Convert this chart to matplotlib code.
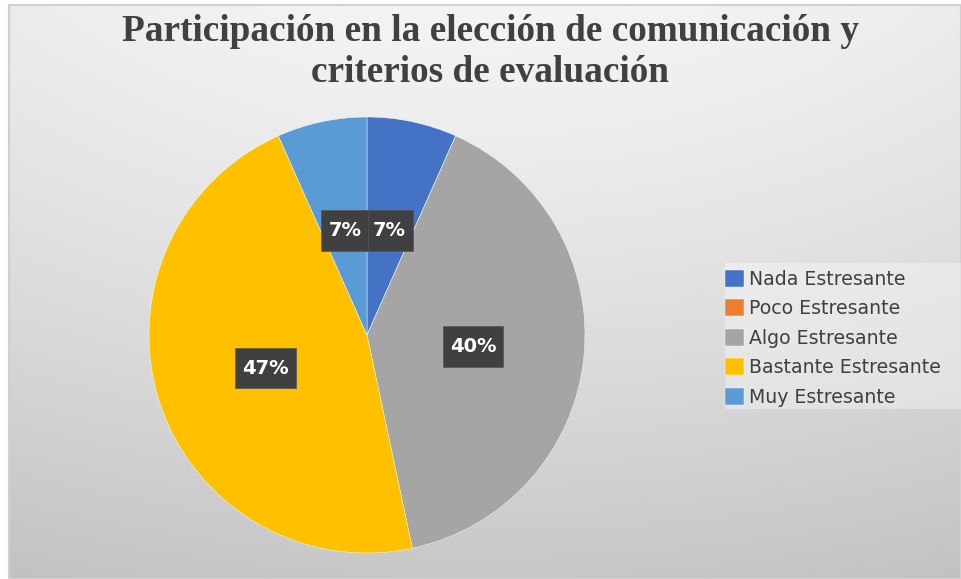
import numpy as np
import matplotlib
matplotlib.use("Agg")
import matplotlib.pyplot as plt
from matplotlib.patches import Rectangle
from matplotlib.path import Path

title = "Participación en la elección de comunicación y\ncriterios de evaluación"
categories = ["Nada Estresante", "Poco Estresante", "Algo Estresante",
              "Bastante Estresante", "Muy Estresante"]
counts = [1, 0, 6, 7, 1]
colors = ["#4472C4", "#ED7D31", "#A5A5A5", "#FFC000", "#5B9BD5"]

W, H = 961, 579
fig = plt.figure(figsize=(W / 100, H / 100), dpi=100)
fig.patch.set_facecolor("white")

# background gradient chart area
bg = fig.add_axes([9 / W, 0, (W - 9) / W, (H - 5) / H])
ny, nx = 200, 300
yy, xx = np.mgrid[0:ny, 0:nx]
cx, cy = nx * 0.5, -ny * 0.35
d = np.sqrt(((xx - cx) / nx) ** 2 + ((yy - cy) / ny) ** 2)
d = (d - d.min()) / (d.max() - d.min())
top, bot = 0.955, 0.76
g = top + (bot - top) * d ** 1.3
img = np.dstack([g, g, g])
bg.imshow(img, aspect="auto", extent=[0, 1, 1, 0], interpolation="bilinear")
bg.set_xticks([]); bg.set_yticks([])
for s in bg.spines.values():
    s.set_color("#d0d0d0"); s.set_linewidth(1.5)

# legend background panel
fig.patches.append(Rectangle((725 / W, 1 - 409 / H), (W - 725) / W, 146 / H,
                             transform=fig.transFigure, facecolor="#ffffff",
                             alpha=0.35, edgecolor="none", zorder=0.5))


def label_box(x0, y0, width, height, mutation_size):
    px = 0.36 * mutation_size
    py = 0.56 * mutation_size
    x0 -= px; y0 -= py
    x1 = x0 + width + 2 * px
    y1 = y0 + height + 2 * py
    return Path([(x0, y0), (x1, y0), (x1, y1), (x0, y1), (x0, y0)], closed=True)


# pie
cxp, cyp, r = 367, 335, 218
ax = fig.add_axes([(cxp - r) / W, (H - cyp - r) / H, 2 * r / W, 2 * r / H])
ax.set_facecolor("none")
wedges, texts, autotexts = ax.pie(
    counts, colors=colors, startangle=90, counterclock=False,
    autopct=lambda p: f"{p:.0f}%" if p > 0 else "", pctdistance=0.49,
    wedgeprops=dict(edgecolor="white", linewidth=0.3),
    textprops=dict(color="white", fontsize=14, fontweight="bold"))
for t in autotexts:
    if t.get_text():
        t.set_bbox(dict(boxstyle=label_box, fc="#404040", ec="#555555", lw=0.5))
ax.set_xlim(-1, 1); ax.set_ylim(-1, 1)
ax.set_aspect("equal")

# title
fig.text(490 / W, 1 - 52 / H, title, ha="center", va="center",
         fontsize=26.8, fontweight="bold", family="Liberation Serif",
         color="#404040", linespacing=1.24)

# legend
leg = fig.legend(wedges, categories, loc="upper left",
                 bbox_to_anchor=(725 / W, 1 - 270 / H), borderaxespad=0,
                 frameon=False, fontsize=13.6, handlelength=1.0, handleheight=1.0,
                 handletextpad=0.25, labelspacing=0.55, borderpad=0.0)
for t in leg.get_texts():
    t.set_color("#404040")

fig.savefig("out.png", dpi=100)
